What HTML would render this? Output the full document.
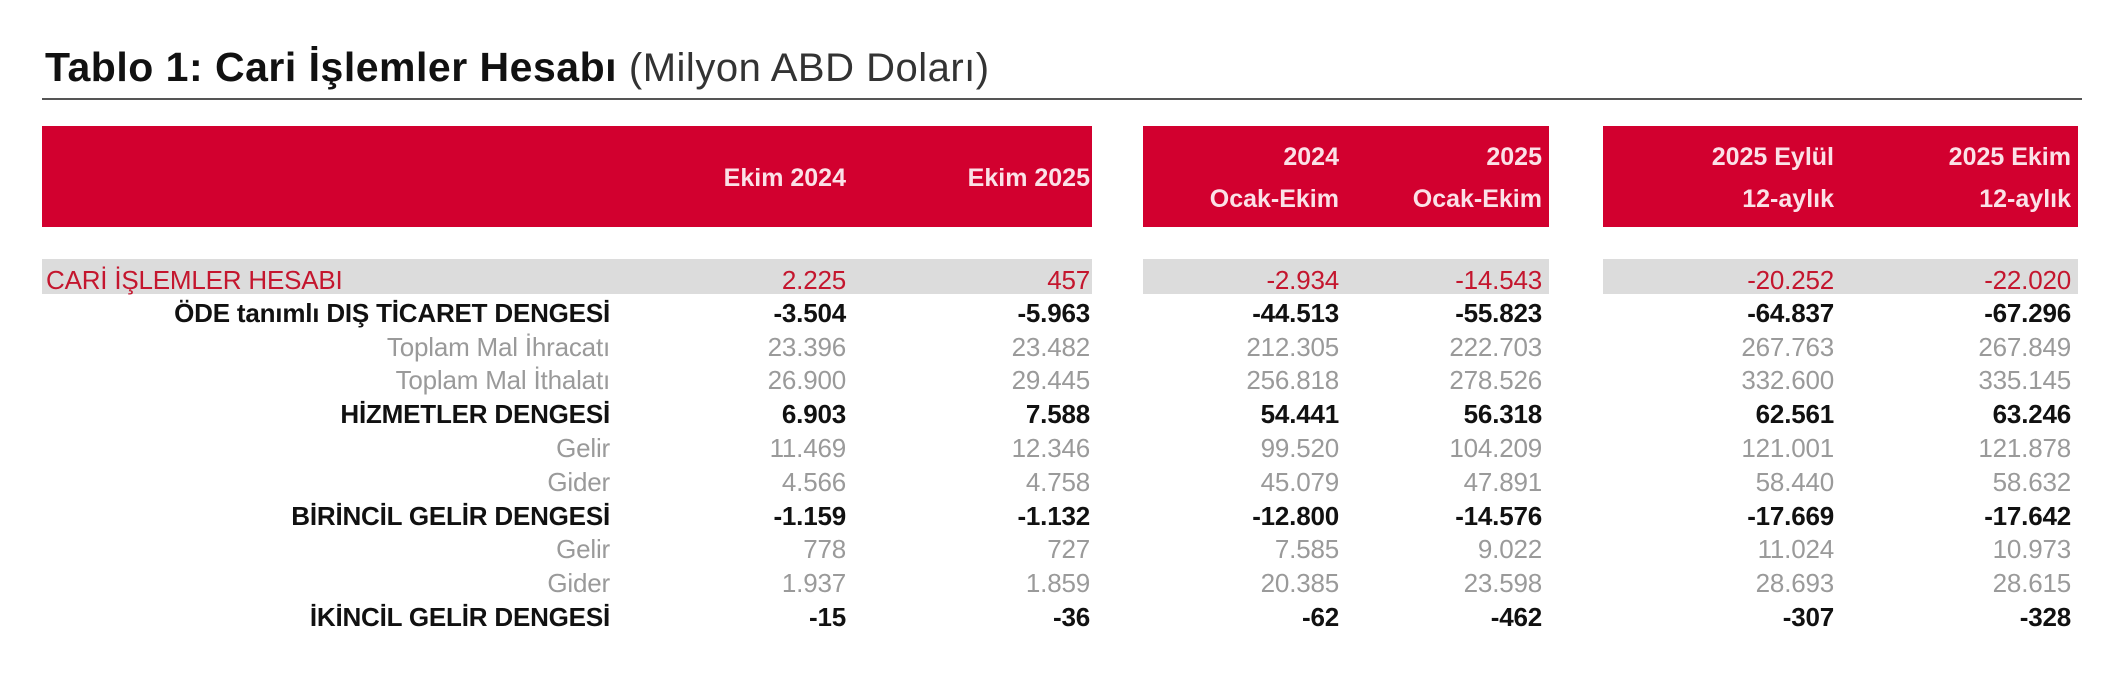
<!DOCTYPE html>
<html><head><meta charset="utf-8"><style>
body{margin:0;width:2108px;height:675px;background:#fff;position:relative;overflow:hidden;font-family:"Liberation Sans",sans-serif}
.t{position:absolute;height:34px;line-height:34px;font-size:26px;white-space:nowrap;text-align:right;letter-spacing:-0.2px}
.b{font-weight:bold;color:#111}.g{color:#9a9a9a}.r{color:#c4162e}
.h{position:absolute;color:#fbe1e7;font-weight:bold;font-size:25px;text-align:right;white-space:nowrap;letter-spacing:0px}
.blk{position:absolute;background:#d2002f;top:126px;height:101px}
.gr{position:absolute;background:#dcdcdc;top:259px;height:35px}
</style></head><body>
<div style="position:absolute;left:45px;top:42px;font-size:41px;font-weight:bold;color:#111;letter-spacing:0.5px;line-height:50px">Tablo 1: Cari İşlemler Hesabı <span style="font-weight:normal;font-size:40px;color:#333">(Milyon ABD Doları)</span></div>
<div style="position:absolute;left:42px;top:98px;width:2040px;height:2px;background:#555"></div>
<div class="blk" style="left:42px;width:1050px"></div>
<div class="blk" style="left:1143px;width:406px"></div>
<div class="blk" style="left:1603px;width:475px"></div>
<div class="gr" style="left:42px;width:1050px"></div>
<div class="gr" style="left:1143px;width:406px"></div>
<div class="gr" style="left:1603px;width:475px"></div>
<div class="h" style="right:1262px;top:164px">Ekim 2024</div>
<div class="h" style="right:1018px;top:164px">Ekim 2025</div>
<div class="h" style="right:769px;top:136px;line-height:42px">2024<br>Ocak-Ekim</div>
<div class="h" style="right:566px;top:136px;line-height:42px">2025<br>Ocak-Ekim</div>
<div class="h" style="right:274px;top:136px;line-height:42px">2025 Eylül<br>12-aylık</div>
<div class="h" style="right:37px;top:136px;line-height:42px">2025 Ekim<br>12-aylık</div>
<div id="rows"></div>
<div class="t r" style="left:46px;top:263px;text-align:left">CARİ İŞLEMLER HESABI</div>
<div class="t b" style="right:1498px;top:296px">ÖDE tanımlı DIŞ TİCARET DENGESİ</div>
<div class="t g" style="right:1498px;top:330px">Toplam Mal İhracatı</div>
<div class="t g" style="right:1498px;top:363px">Toplam Mal İthalatı</div>
<div class="t b" style="right:1498px;top:397px">HİZMETLER DENGESİ</div>
<div class="t g" style="right:1498px;top:431px">Gelir</div>
<div class="t g" style="right:1498px;top:465px">Gider</div>
<div class="t b" style="right:1498px;top:499px">BİRİNCİL GELİR DENGESİ</div>
<div class="t g" style="right:1498px;top:532px">Gelir</div>
<div class="t g" style="right:1498px;top:566px">Gider</div>
<div class="t b" style="right:1498px;top:600px">İKİNCİL GELİR DENGESİ</div>
<script>
var tops=[263,296,330,363,397,431,465,499,532,566,600];
var cls=['r','b','g','g','b','g','g','b','g','g','b'];
var rights=[1262,1018,769,566,274,37];
var d=[
["2.225","457","-2.934","-14.543","-20.252","-22.020"],
["-3.504","-5.963","-44.513","-55.823","-64.837","-67.296"],
["23.396","23.482","212.305","222.703","267.763","267.849"],
["26.900","29.445","256.818","278.526","332.600","335.145"],
["6.903","7.588","54.441","56.318","62.561","63.246"],
["11.469","12.346","99.520","104.209","121.001","121.878"],
["4.566","4.758","45.079","47.891","58.440","58.632"],
["-1.159","-1.132","-12.800","-14.576","-17.669","-17.642"],
["778","727","7.585","9.022","11.024","10.973"],
["1.937","1.859","20.385","23.598","28.693","28.615"],
["-15","-36","-62","-462","-307","-328"]];
var h='';
for(var i=0;i<d.length;i++)for(var j=0;j<6;j++)h+='<div class="t '+cls[i]+'" style="right:'+rights[j]+'px;top:'+tops[i]+'px">'+d[i][j]+'</div>';
document.getElementById('rows').innerHTML=h;
</script>
</body></html>
